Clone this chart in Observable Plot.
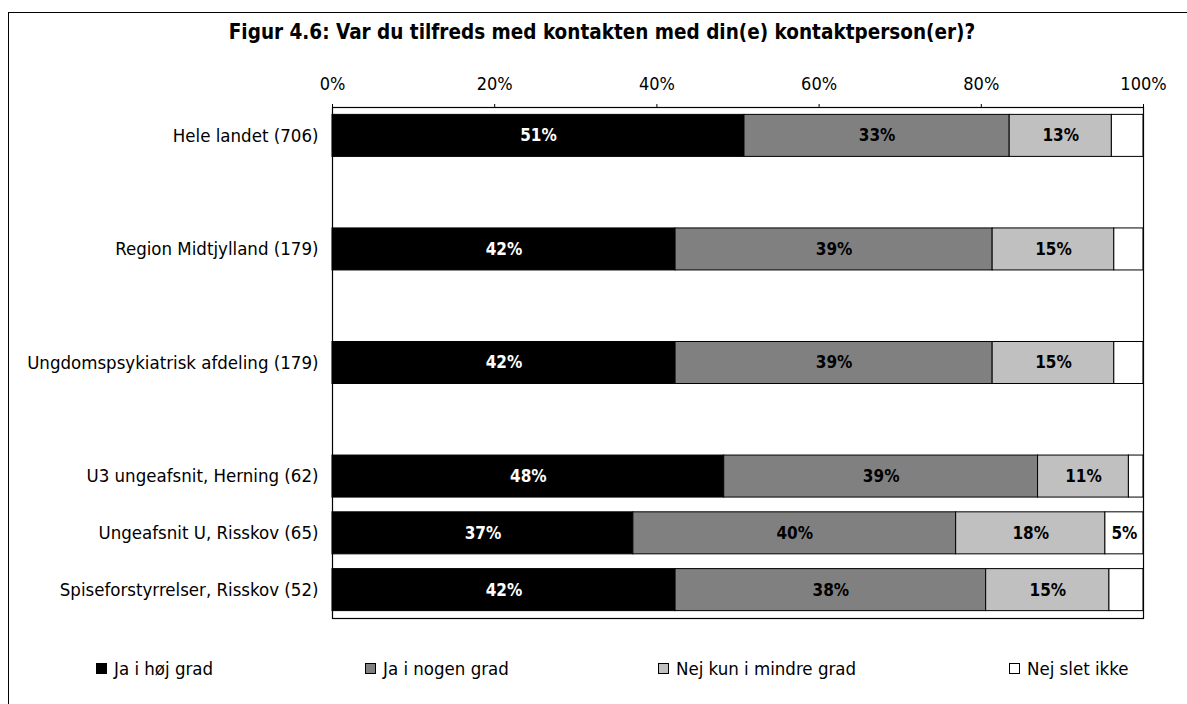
<!DOCTYPE html>
<html>
<head>
<meta charset="utf-8">
<script src="https://cdn.jsdelivr.net/npm/d3@7"></script>
<script src="https://cdn.jsdelivr.net/npm/@observablehq/plot@0.6"></script>
<style>
  html, body { margin: 0; padding: 0; background: #fff; }
  body { font-family: "DejaVu Sans Condensed", "Liberation Sans Narrow", Roboto, sans-serif; color: #000; }
  #wrap { position: relative; width: 1187px; height: 704px; overflow: hidden; }
  #border { position: absolute; left: 8px; top: 12px; width: 1220px; height: 740px; border: 1px solid #000; }
  #title { position: absolute; left: 8px; width: 1188px; top: 20px; text-align: center; font-weight: bold; font-size: 20.5px; line-height: 24px; }
  #chart { position: absolute; left: 0; top: 0; }
  #legend { position: absolute; left: 0; top: 657px; width: 1187px; height: 22px; }
  .item { position: absolute; top: 0; display: flex; align-items: center; height: 22px; font-size: 18.5px; white-space: nowrap; }
  .sw { width: 9px; height: 9px; border: 1px solid #000; margin-right: 7px; }
</style>
</head>
<body>
<div id="wrap">
  <div id="border"></div>
  <div id="title"></div>
  <div id="chart"></div>
  <div id="legend"></div>
</div>
<script>
const titleText = "Figur 4.6: Var du tilfreds med kontakten med din(e) kontaktperson(er)?";
const categories = [
  "Hele landet (706)",
  "Region Midtjylland (179)",
  "Ungdomspsykiatrisk afdeling (179)",
  "U3 ungeafsnit, Herning (62)",
  "Ungeafsnit U, Risskov (65)",
  "Spiseforstyrrelser, Risskov (52)"
];
// Row order including blank spacer rows
const rowOrder = [categories[0], "gap1", categories[1], "gap2", categories[2], "gap3", categories[3], categories[4], categories[5]];
const answers = ["Ja i høj grad", "Ja i nogen grad", "Nej kun i mindre grad", "Nej slet ikke"];
const colors = ["#000000", "#808080", "#c0c0c0", "#ffffff"];
const jaHoejGrad      = [50.8, 42.3, 42.3, 48.3, 37.1, 42.3];
const jaNogenGrad     = [32.7, 39.1, 39.1, 38.7, 39.8, 38.3];
const nejMindreGrad   = [12.6, 15.0, 15.0, 11.2, 18.4, 15.2];
const nejSletIkke     = [3.9, 3.6, 3.6, 1.8, 4.7, 4.2];
const xTicks = [0, 20, 40, 60, 80, 100];

const series = [jaHoejGrad, jaNogenGrad, nejMindreGrad, nejSletIkke];
const rows = [];
categories.forEach((c, i) => {
  series.forEach((s, j) => rows.push({cat: c, answer: answers[j], value: s[i]}));
});
const labelText = d => d.value >= 4.5 ? Math.round(d.value) + "%" : "";

document.getElementById("title").textContent = titleText;

const chart = Plot.plot({
  width: 1187,
  height: 640,
  marginLeft: 332,
  marginRight: 44,
  marginTop: 107,
  marginBottom: 22,
  style: {fontFamily: '"DejaVu Sans Condensed", "Liberation Sans Narrow", Roboto, sans-serif', fontSize: "18px", color: "#000", background: "transparent"},
  x: {domain: [0, 100]},
  y: {domain: rowOrder, paddingInner: 0.26, paddingOuter: 0.13, round: false},
  color: {domain: answers, range: colors},
  marks: [
    Plot.barX(rows, Plot.stackX({x: "value", y: "cat", fill: "answer", stroke: "#000", strokeWidth: 1})),
    Plot.text(rows, Plot.stackX({x: "value", y: "cat", z: "answer",
      text: d => d.answer === answers[0] ? labelText(d) : "",
      fill: "#fff", fontWeight: "bold", fontSize: 17})),
    Plot.text(rows, Plot.stackX({x: "value", y: "cat", z: "answer",
      text: d => d.answer !== answers[0] ? labelText(d) : "",
      fill: "#000", fontWeight: "bold", fontSize: 17})),
    Plot.frame({stroke: "#000", strokeWidth: 1.2}),
    Plot.axisX({anchor: "top", ticks: xTicks, tickFormat: d => d + "%", tickSize: 4, tickPadding: 14, label: null, fontSize: 18}),
    Plot.axisY({anchor: "left", tickSize: 0, tickPadding: 14, label: null, tickFormat: d => categories.includes(d) ? d : "", fontSize: 18.5})
  ]
});
document.getElementById("chart").appendChild(chart);

const legendLeft = [96, 365, 658, 1009];
const legend = document.getElementById("legend");
answers.forEach((a, i) => {
  const item = document.createElement("div");
  item.className = "item";
  item.style.left = legendLeft[i] + "px";
  const sw = document.createElement("span");
  sw.className = "sw";
  sw.style.background = colors[i];
  const t = document.createElement("span");
  t.textContent = a;
  item.appendChild(sw);
  item.appendChild(t);
  legend.appendChild(item);
});
</script>
</body>
</html>
